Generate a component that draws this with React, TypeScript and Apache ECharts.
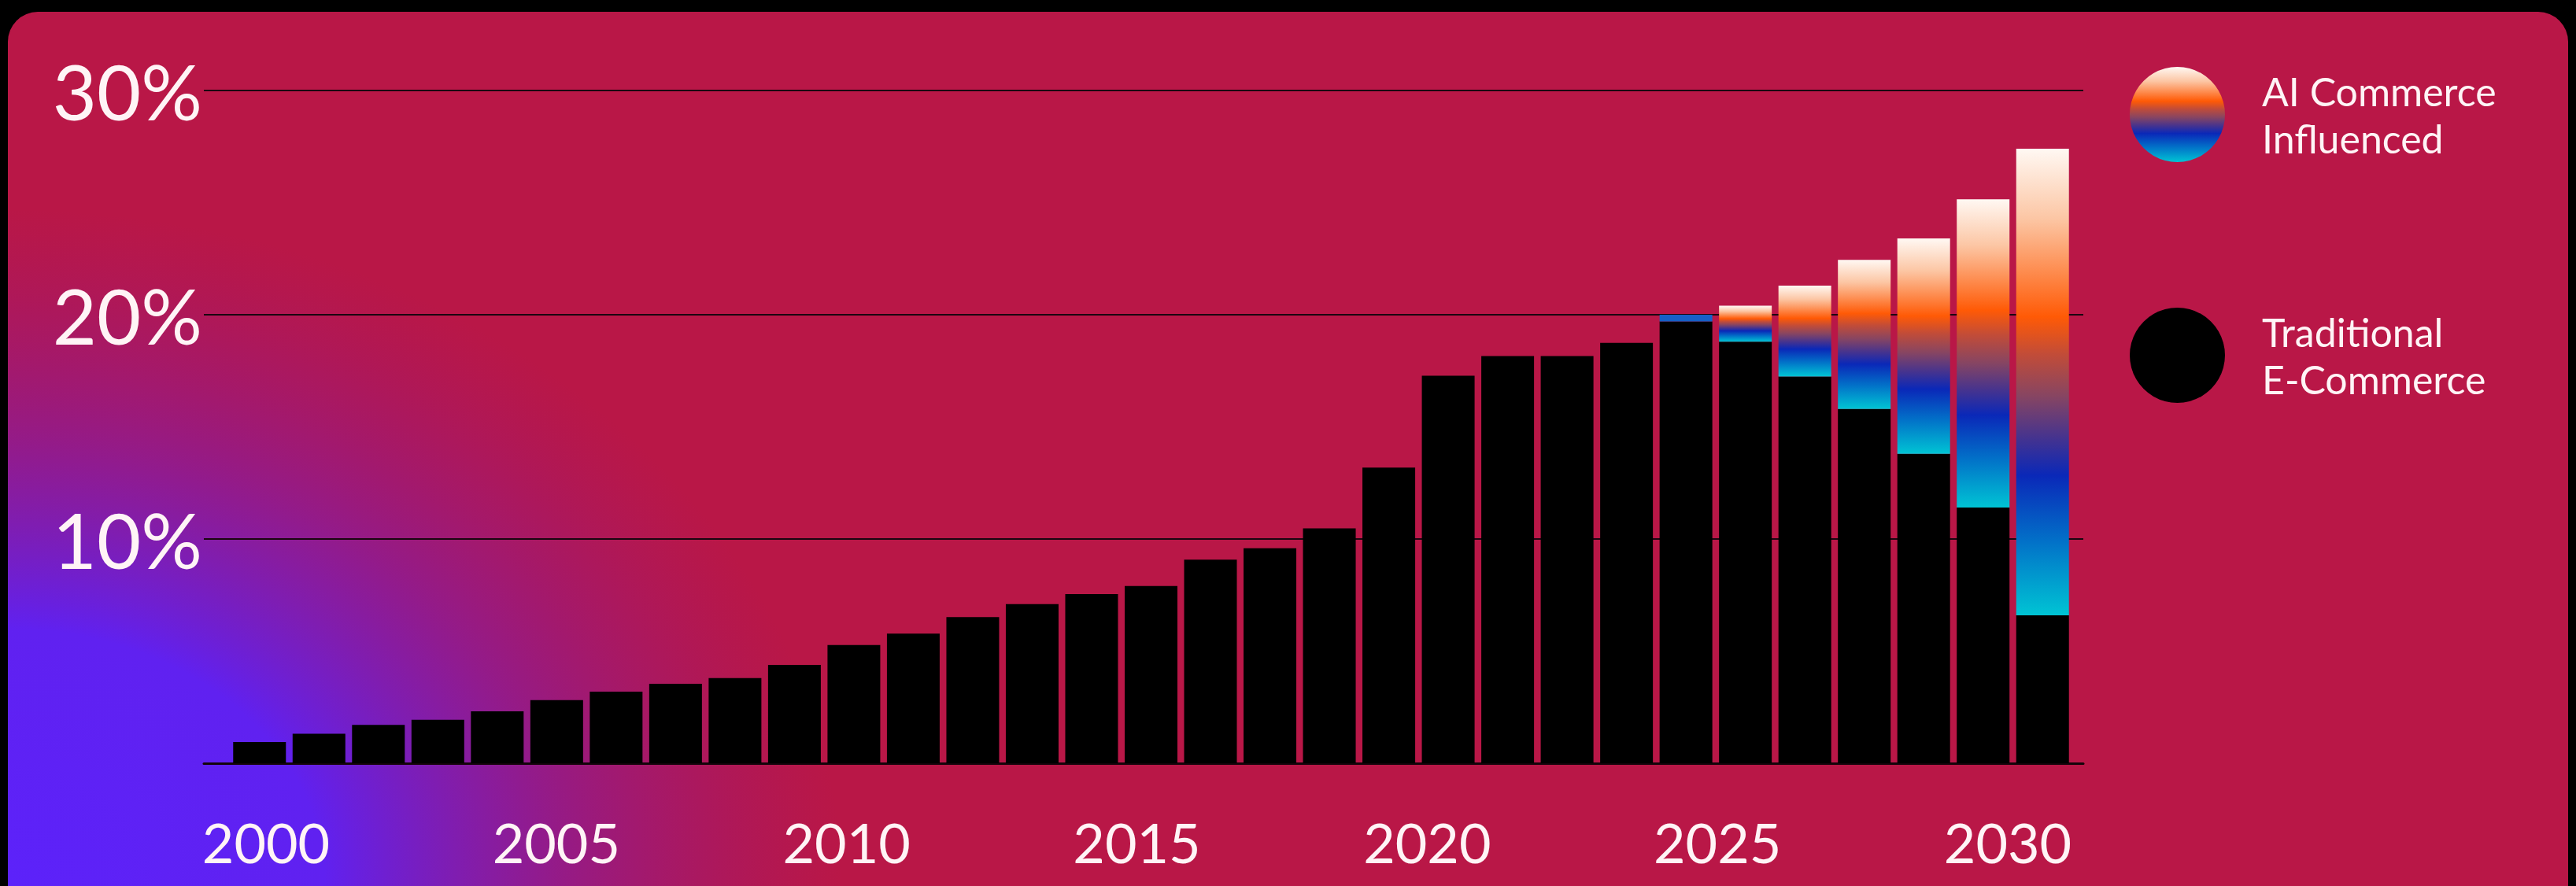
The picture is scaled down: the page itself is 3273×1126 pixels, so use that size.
import React, { useEffect, useRef } from "react";
import * as echarts from "echarts";

const years = [
  "2000", "2001", "2002", "2003", "2004", "2005", "2006", "2007", "2008", "2009",
  "2010", "2011", "2012", "2013", "2014", "2015", "2016", "2017", "2018", "2019",
  "2020", "2021", "2022", "2023", "2024", "2025", "2026", "2027", "2028", "2029", "2030",
];

const traditional = [
  0.95, 1.32, 1.71, 1.94, 2.32, 2.82, 3.19, 3.54, 3.8, 4.39,
  5.27, 5.78, 6.52, 7.1, 7.54, 7.9, 9.08, 9.59, 10.47, 13.18,
  17.28, 18.16, 18.16, 18.75, 19.7, 18.8, 17.25, 15.8, 13.8, 11.4, 6.6,
];

const aiInfluenced = [
  null, null, null, null, null, null, null, null, null, null,
  null, null, null, null, null, null, null, null, null, null,
  null, null, null, null, 0.3, 1.6, 4.05, 6.65, 9.6, 13.75, 20.8,
];

const xTickLabels = ["2000", "2005", "2010", "2015", "2020", "2025", "2030"];
const yTickValues = [0, 10, 20, 30];

const seriesNames = ["AI Commerce\nInfluenced", "Traditional\nE-Commerce"];

const FONT = "Lato";

export default function App() {
  const ref = useRef<HTMLDivElement>(null);

  useEffect(() => {
    document.body.style.margin = "0";
    document.body.style.background = "#000";
    if (!ref.current) return;
    const chart = echarts.init(ref.current, null, { renderer: "svg" });

    const aiGradient = new echarts.graphic.LinearGradient(0, 0, 0, 1, [
      { offset: 0, color: "#fff8f3" },
      { offset: 0.15, color: "#fcc6a4" },
      { offset: 0.36, color: "#ff5a06" },
      { offset: 0.44, color: "#c24c38" },
      { offset: 0.53, color: "#874562" },
      { offset: 0.62, color: "#45338f" },
      { offset: 0.7, color: "#0a28b8" },
      { offset: 0.84, color: "#0270c8" },
      { offset: 1, color: "#00c4d4" },
    ]);

    const aiData = aiInfluenced.map((v, i) =>
      years[i] === "2024" && v != null
        ? { value: v, itemStyle: { color: "#1560c8" } }
        : v
    );

    const yMin = yTickValues[0];
    const yMax = yTickValues[yTickValues.length - 1];
    const yInterval = yTickValues[1] - yTickValues[0];

    const option: any = {
      animation: false,
      backgroundColor: "#000",
      graphic: [
        {
          type: "rect",
          z: -20,
          silent: true,
          shape: { x: 10, y: 15, width: 3253, height: 1170, r: 38 },
          style: { fill: "#B91747" },
        },
        {
          type: "rect",
          z: -19,
          silent: true,
          shape: { x: 10, y: 266, width: 1060, height: 860 },
          style: {
            fill: new echarts.graphic.RadialGradient(0, 1, 1, [
              { offset: 0, color: "rgba(92,34,250,1)" },
              { offset: 0.38, color: "rgba(96,33,240,1)" },
              { offset: 0.66, color: "rgba(112,30,200,0.5)" },
              { offset: 1, color: "rgba(140,25,140,0)" },
            ]),
          },
        },
      ],
      legend: {
        orient: "vertical",
        left: 2701,
        top: 80,
        itemWidth: 121,
        itemHeight: 121,
        itemGap: 185,
        icon: "circle",
        selectedMode: false,
        data: seriesNames,
        textStyle: {
          color: "#fff4f6",
          fontFamily: FONT,
          fontWeight: 400,
          fontSize: 50,
          lineHeight: 60,
          padding: [0, 0, 0, 42],
        },
      },
      grid: [
        { left: 259, width: 2388, top: 115, height: 855 },
        { left: 292, width: 2341, top: 115, height: 855 },
        { left: 338, width: 2213, top: 115, height: 855 },
      ],
      xAxis: [
        {
          gridIndex: 0,
          type: "value",
          min: 0,
          max: 1,
          axisLine: { show: true, lineStyle: { color: "#14040a", width: 3 } },
          axisTick: { show: false },
          axisLabel: { show: false },
          splitLine: { show: false },
        },
        {
          gridIndex: 1,
          type: "category",
          data: years,
          axisLine: { show: false },
          axisTick: { show: false },
          axisLabel: { show: false },
          splitLine: { show: false },
        },
        {
          gridIndex: 2,
          type: "value",
          min: Number(xTickLabels[0]),
          max: Number(xTickLabels[xTickLabels.length - 1]),
          interval: 5,
          axisLine: { show: false },
          axisTick: { show: false },
          splitLine: { show: false },
          axisLabel: {
            show: true,
            color: "#fff4f6",
            fontFamily: FONT,
            fontWeight: 400,
            fontSize: 70,
            margin: 100,
            verticalAlign: "middle",
            formatter: (v: number) =>
              xTickLabels.includes(String(v)) ? String(v) : "",
          },
        },
      ],
      yAxis: [
        {
          gridIndex: 0,
          type: "value",
          min: yMin,
          max: yMax,
          interval: yInterval,
          axisLine: { show: false },
          axisTick: { show: false },
          splitLine: { show: true, lineStyle: { color: "#1a0610", width: 2 } },
          axisLabel: {
            show: true,
            color: "#fff4f6",
            fontFamily: FONT,
            fontWeight: 400,
            fontSize: 97,
            margin: 2,
            formatter: (v: number) => (v === 0 ? "" : `${v}%`),
          },
        },
        {
          gridIndex: 1,
          type: "value",
          min: yMin,
          max: yMax,
          interval: yInterval,
          show: false,
          splitLine: { show: false },
        },
        {
          gridIndex: 2,
          type: "value",
          min: yMin,
          max: yMax,
          show: false,
          splitLine: { show: false },
        },
      ],
      series: [
        {
          name: seriesNames[1],
          type: "bar",
          xAxisIndex: 1,
          yAxisIndex: 1,
          stack: "total",
          barWidth: 67,
          itemStyle: { color: "#000" },
          data: traditional,
        },
        {
          name: seriesNames[0],
          type: "bar",
          xAxisIndex: 1,
          yAxisIndex: 1,
          stack: "total",
          barWidth: 67,
          itemStyle: { color: aiGradient },
          data: aiData,
        },
      ],
    };

    chart.setOption(option);
    return () => chart.dispose();
  }, []);

  return <div ref={ref} style={{ width: 3273, height: 1126 }} />;
}
